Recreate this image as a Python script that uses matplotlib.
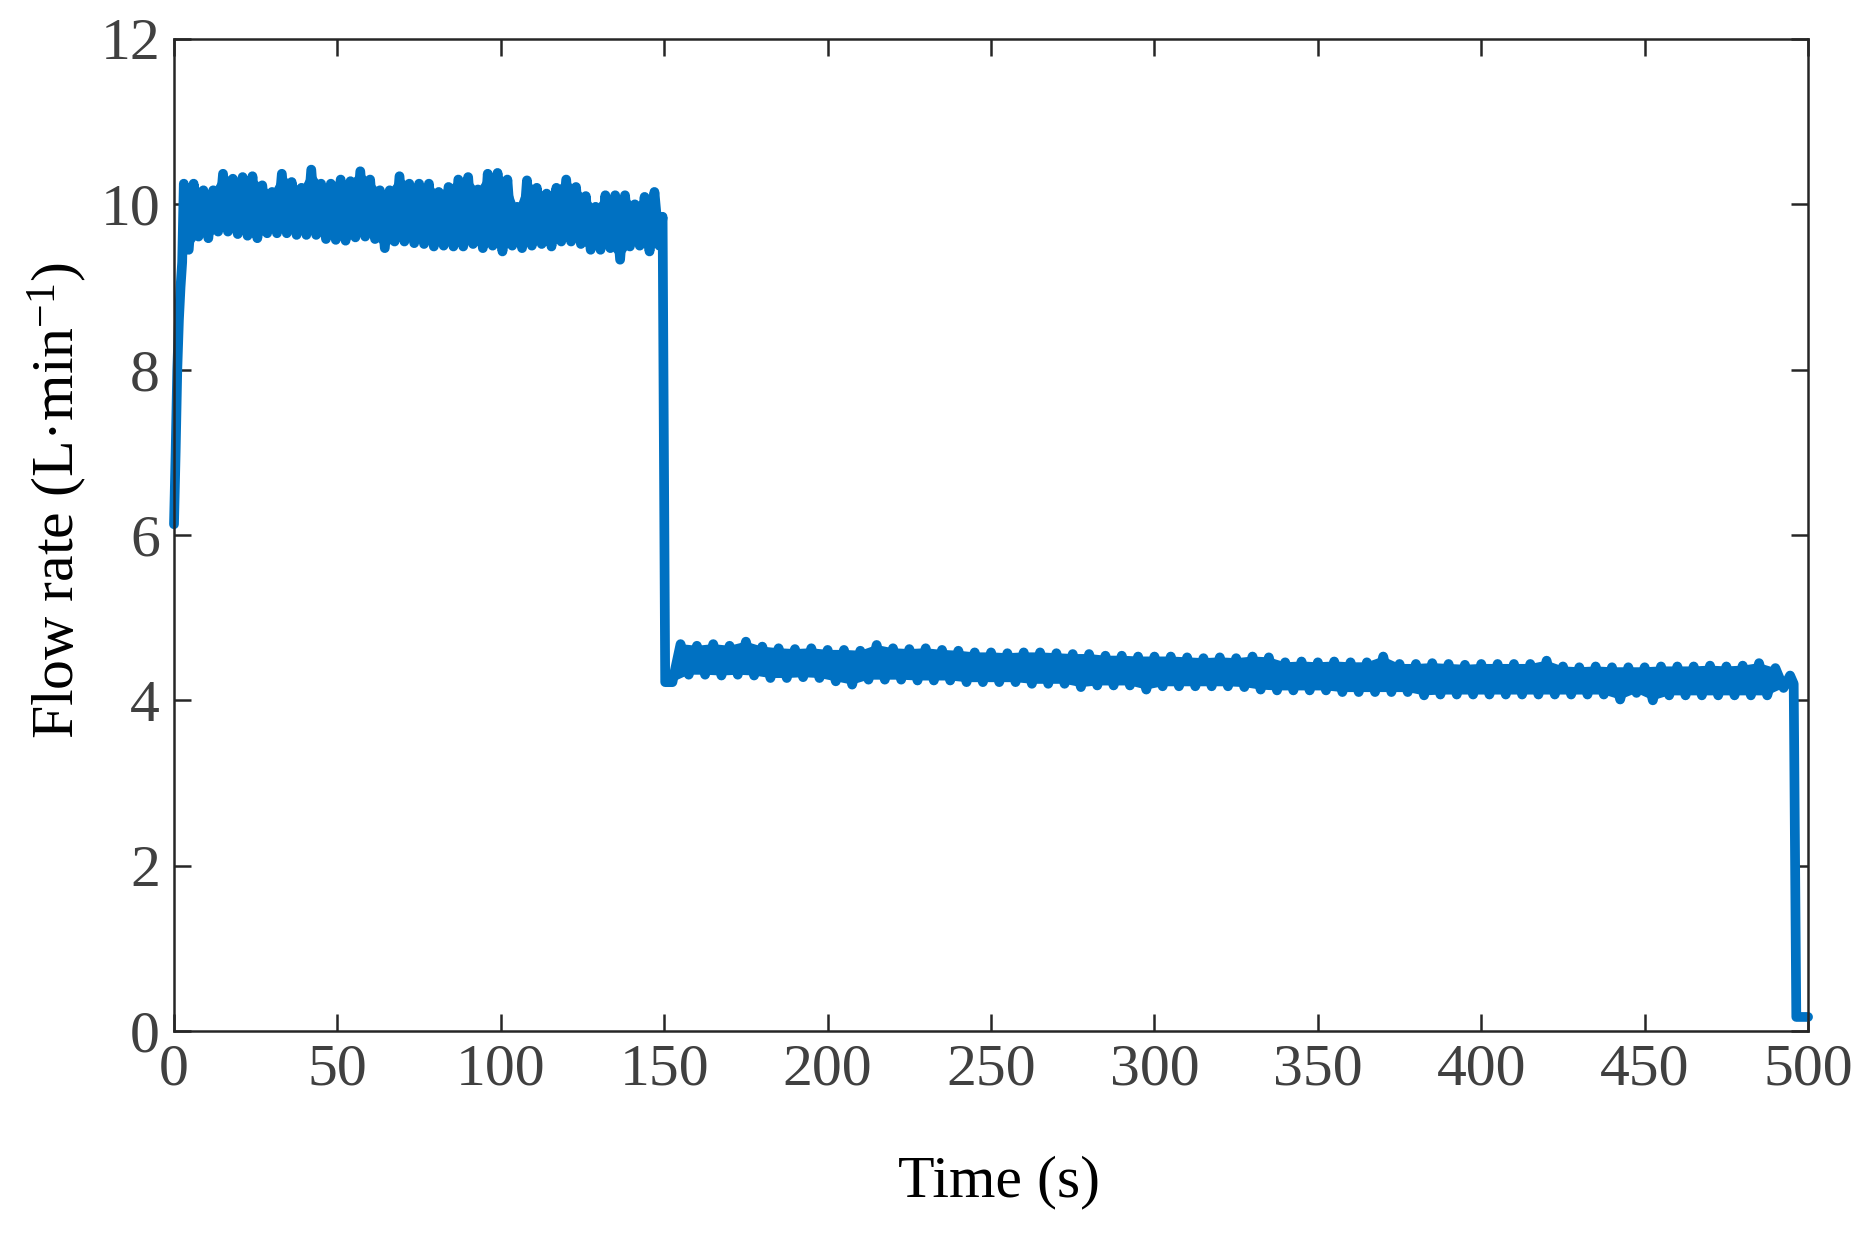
import numpy as np
import matplotlib
matplotlib.use("Agg")
import matplotlib.pyplot as plt

# ramp at start-up (s, L/min)
ramp_t = [0.0, 0.5, 1.0, 1.5, 2.0, 2.5]
ramp_v = [6.13, 7.0, 8.0, 8.6, 9.0, 9.3]

# first plateau: upper peaks every 3 s from t=3, troughs 1.5 s later
seg1_hi = [10.25, 10.25, 10.17, 10.17, 10.37, 10.31, 10.33, 10.34, 10.23, 10.15,
           10.37, 10.27, 10.20, 10.42, 10.25, 10.25, 10.30, 10.28, 10.40, 10.30,
           10.17, 10.17, 10.34, 10.25, 10.25, 10.25, 10.15, 10.21, 10.30, 10.33,
           10.18, 10.37, 10.38, 10.30, 9.97, 10.29, 10.20, 10.13, 10.20, 10.30,
           10.21, 10.10, 9.97, 10.11, 10.11, 10.11, 10.00, 10.09, 10.15]
seg1_lo = [9.45, 9.61, 9.59, 9.67, 9.67, 9.64, 9.62, 9.59, 9.65, 9.65,
           9.65, 9.63, 9.63, 9.63, 9.58, 9.57, 9.56, 9.60, 9.61, 9.58,
           9.47, 9.55, 9.55, 9.53, 9.52, 9.49, 9.50, 9.49, 9.49, 9.52,
           9.47, 9.50, 9.43, 9.50, 9.47, 9.50, 9.52, 9.49, 9.55, 9.55,
           9.52, 9.45, 9.45, 9.47, 9.33, 9.49, 9.50, 9.43, 9.50]

# step down at ~150 s
drop1_t = [149.5, 150.3]
drop1_v = [9.85, 4.22]

# second plateau: troughs every 5 s from t=152.5, peaks every 5 s from t=155
seg2_lo = [4.22, 4.31, 4.31, 4.30, 4.31, 4.30, 4.27, 4.27, 4.28, 4.27,
           4.23, 4.19, 4.25, 4.25, 4.25, 4.24, 4.24, 4.24, 4.22, 4.22,
           4.22, 4.22, 4.20, 4.20, 4.20, 4.16, 4.18, 4.18, 4.18, 4.13,
           4.17, 4.17, 4.17, 4.17, 4.17, 4.16, 4.13, 4.12, 4.12, 4.12,
           4.12, 4.10, 4.10, 4.10, 4.10, 4.10, 4.06, 4.07, 4.07, 4.07,
           4.07, 4.07, 4.07, 4.07, 4.07, 4.07, 4.07, 4.07, 4.01, 4.09,
           4.00, 4.06, 4.06, 4.06, 4.06, 4.06, 4.06, 4.06, 4.15]
seg2_hi = [4.68, 4.66, 4.68, 4.66, 4.71, 4.65, 4.63, 4.62, 4.63, 4.61,
           4.61, 4.60, 4.67, 4.63, 4.62, 4.63, 4.61, 4.60, 4.58, 4.58,
           4.57, 4.58, 4.58, 4.57, 4.56, 4.56, 4.54, 4.54, 4.53, 4.53,
           4.53, 4.52, 4.51, 4.52, 4.51, 4.53, 4.52, 4.46, 4.47, 4.46,
           4.47, 4.46, 4.46, 4.53, 4.44, 4.44, 4.45, 4.44, 4.43, 4.44,
           4.44, 4.44, 4.44, 4.48, 4.41, 4.40, 4.41, 4.40, 4.40, 4.40,
           4.41, 4.41, 4.41, 4.42, 4.41, 4.42, 4.45, 4.39]

# shut-off at the end
end_t = [494.5, 495.6, 496.4, 500.0]
end_v = [4.30, 4.20, 0.17, 0.17]

x_ticks = [0, 50, 100, 150, 200, 250, 300, 350, 400, 450, 500]
y_ticks = [0, 2, 4, 6, 8, 10, 12]

LINE_COLOR = "#0071C2"


def _zigzag(t_a, v_a, t_b, v_b):
    t = np.empty(len(t_a) + len(t_b))
    v = np.empty_like(t)
    t[0::2], v[0::2] = t_a, v_a
    t[1::2], v[1::2] = t_b, v_b
    return t, v


def _band(ax, t_hi, v_hi, t_lo, v_lo):
    """Solid fill between the peak and trough points of a noisy plateau."""
    px = np.concatenate([t_hi, t_lo[::-1]])
    py = np.concatenate([v_hi, np.asarray(v_lo)[::-1]])
    ax.fill(px, py, color=LINE_COLOR, linewidth=0)


t1_hi = 3.0 + 3.0 * np.arange(len(seg1_hi))
t1_lo = t1_hi + 1.5
x1, y1 = _zigzag(t1_hi, seg1_hi, t1_lo, seg1_lo)

t2_lo = 152.5 + 5.0 * np.arange(len(seg2_lo))
t2_hi = 155.0 + 5.0 * np.arange(len(seg2_hi))
x2, y2 = _zigzag(t2_lo, seg2_lo, t2_hi, seg2_hi)

time = np.concatenate([ramp_t, x1, drop1_t, x2, end_t])
flow = np.concatenate([ramp_v, y1, drop1_v, y2, end_v])

plt.rcParams["font.family"] = ["Liberation Serif", "DejaVu Serif"]
plt.rcParams["mathtext.fontset"] = "custom"
plt.rcParams["mathtext.rm"] = "Liberation Serif"
plt.rcParams["mathtext.it"] = "Liberation Serif:italic"

fig = plt.figure(figsize=(18.69, 12.38), dpi=100)
ax = fig.add_axes([0.0931, 0.1672, 0.8743, 0.8013])

_band(ax, t1_hi, seg1_hi, t1_lo, seg1_lo)
_band(ax, t2_hi, seg2_hi, t2_lo, seg2_lo)
ax.plot(time, flow, color=LINE_COLOR, linewidth=7,
        solid_capstyle="round", solid_joinstyle="round", clip_on=False)

ax.set_xlim(0, 500)
ax.set_ylim(0, 12)
ax.set_xticks(x_ticks)
ax.set_yticks(y_ticks)

for side in ("top", "bottom", "left", "right"):
    ax.spines[side].set_linewidth(1.8)
    ax.spines[side].set_color("#262626")
ax.tick_params(direction="in", length=12, width=1.8, color="#262626",
               top=True, right=True, labelsize=43, labelcolor="#404040")
ax.tick_params(axis="x", pad=9)
ax.tick_params(axis="y", pad=10)

ax.set_xlabel("Time (s)", fontsize=43, color="black")
ax.xaxis.set_label_coords(0.505, -0.125)
ax.set_ylabel("Flow rate (L·min$^{-1}$)", fontsize=43, color="black")
ax.yaxis.set_label_coords(-0.052, 0.535)

fig.savefig("out.png", dpi=100)
